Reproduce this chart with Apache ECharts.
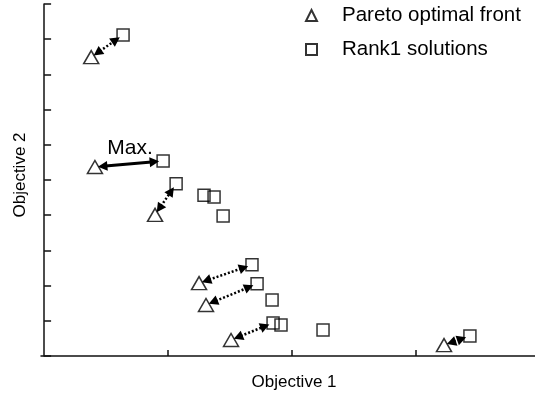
<!DOCTYPE html>
<html><head><meta charset="utf-8">
<script src="https://cdn.jsdelivr.net/npm/echarts@6/dist/echarts.min.js"></script>
<style>html,body{margin:0;padding:0;background:#fff}#c{width:535px;height:394px}</style>
</head><body><div id="c"></div>
<script>
// ---- data (units: one x tick = 1, one y tick = 1) ----
const xTickValues = [1, 2, 3];
const paretoName = 'Pareto optimal front';
const rankName = 'Rank1 solutions';
const paretoX = [0.38, 0.41, 0.895, 1.25, 1.306, 1.508, 3.226];
const paretoY = [8.49, 5.37, 4.01, 2.07, 1.45, 0.455, 0.31];
const rankX = [0.637, 0.96, 1.065, 1.29, 1.371, 1.444, 1.677, 1.718, 1.839, 1.847, 1.911, 2.25, 3.435];
const rankY = [9.12, 5.54, 4.89, 4.57, 4.52, 3.98, 2.59, 2.05, 1.59, 0.94, 0.88, 0.74, 0.57];
// arrows: pareto index -> rank index, 1 = solid "Max." arrow, 0 = dotted
const arrowFrom = [0, 1, 2, 3, 4, 5, 6];
const arrowTo   = [0, 1, 2, 6, 7, 9, 12];
const arrowKind = [0, 1, 0, 0, 0, 0, 0];
const maxLabel = 'Max.';
const xTitle = 'Objective 1';
const yTitle = 'Objective 2';

const FONT = '"Liberation Sans", Arial, sans-serif';
const paretoData = paretoX.map((x, i) => [x, paretoY[i]]);
const rankData = rankX.map((x, i) => [x, rankY[i]]);
const arrowData = arrowFrom.map((f, i) => [paretoX[f], paretoY[f], rankX[arrowTo[i]], rankY[arrowTo[i]], arrowKind[i]]);

function renderArrow(params, api) {
  const a = api.coord([api.value(0), api.value(1)]);
  const b = api.coord([api.value(2), api.value(3)]);
  const solid = api.value(4) === 1;
  const dx = b[0] - a[0], dy = b[1] - a[1];
  const L = Math.hypot(dx, dy);
  const ux = dx / L, uy = dy / L, nx = -uy, ny = ux;
  const offA = 3, offB = 4, head = 9.5, hw = 5;
  const tA = [a[0] + ux * offA, a[1] + uy * offA];
  const tB = [b[0] - ux * offB, b[1] - uy * offB];
  const bA = [tA[0] + ux * head, tA[1] + uy * head];
  const bB = [tB[0] - ux * head, tB[1] - uy * head];
  const children = [
    { type: 'line', shape: { x1: bA[0] - ux * 2, y1: bA[1] - uy * 2, x2: bB[0] + ux * 2, y2: bB[1] + uy * 2 },
      style: { stroke: '#000', lineWidth: solid ? 3 : 2.5, lineDash: solid ? null : [2, 2] } },
    { type: 'polygon', shape: { points: [tA, [bA[0] + nx * hw, bA[1] + ny * hw], [bA[0] - nx * hw, bA[1] - ny * hw]] },
      style: { fill: '#000' } },
    { type: 'polygon', shape: { points: [tB, [bB[0] + nx * hw, bB[1] + ny * hw], [bB[0] - nx * hw, bB[1] - ny * hw]] },
      style: { fill: '#000' } }
  ];
  if (solid) {
    children.push({ type: 'text', x: (a[0] + b[0]) / 2 + 1, y: (a[1] + b[1]) / 2 - 16,
      style: { text: maxLabel, fill: '#000', font: '21px ' + FONT, align: 'center', verticalAlign: 'middle' } });
  }
  return { type: 'group', children };
}

const chart = echarts.init(document.getElementById('c'), null, { renderer: 'canvas' });
chart.setOption({
  animation: false,
  backgroundColor: '#fff',
  grid: { left: 41, right: 0, top: 4, bottom: 38, containLabel: false, outerBoundsMode: 'none' },
  legend: {
    orient: 'vertical', left: 305, top: 5, itemGap: 13, itemWidth: 11, itemHeight: 11, padding: 0,
    textStyle: { fontFamily: FONT, fontSize: 20.5, color: '#000', padding: [0, 0, 0, 20] },
    data: [paretoName, rankName]
  },
  xAxis: {
    type: 'value', min: -0.025, max: 3.96,
    name: xTitle, nameLocation: 'middle', nameGap: 18,
    nameTextStyle: { fontFamily: FONT, fontSize: 17, color: '#000', padding: [0, 0, 0, 12] },
    axisLine: { lineStyle: { color: '#111', width: 1.5 } },
    axisTick: { show: true, inside: true, length: 6, customValues: xTickValues, lineStyle: { color: '#111', width: 1.5 } },
    axisLabel: { show: false },
    splitLine: { show: false }
  },
  yAxis: {
    type: 'value', min: 0, max: 10, interval: 1,
    name: yTitle, nameLocation: 'middle', nameGap: 12,
    nameTextStyle: { fontFamily: FONT, fontSize: 17, color: '#000', padding: [0, 0, 0, 10] },
    axisLine: { show: true, lineStyle: { color: '#111', width: 1.5 } },
    axisTick: { show: true, inside: true, length: 7, lineStyle: { color: '#111', width: 1.5 } },
    axisLabel: { show: false },
    splitLine: { show: false }
  },
  series: [
    { name: paretoName, type: 'scatter', symbol: 'triangle', symbolSize: [15, 13], data: paretoData, z: 3,
      itemStyle: { color: 'rgba(255,255,255,0)', borderColor: '#000', borderWidth: 1.5 } },
    { name: rankName, type: 'scatter', symbol: 'rect', symbolSize: 12, data: rankData, z: 3,
      itemStyle: { color: 'rgba(255,255,255,0)', borderColor: '#000', borderWidth: 1.5 } },
    { type: 'custom', renderItem: renderArrow, data: arrowData, z: 4, silent: true,
      encode: { x: [0, 2], y: [1, 3] } }
  ]
});
</script></body></html>
